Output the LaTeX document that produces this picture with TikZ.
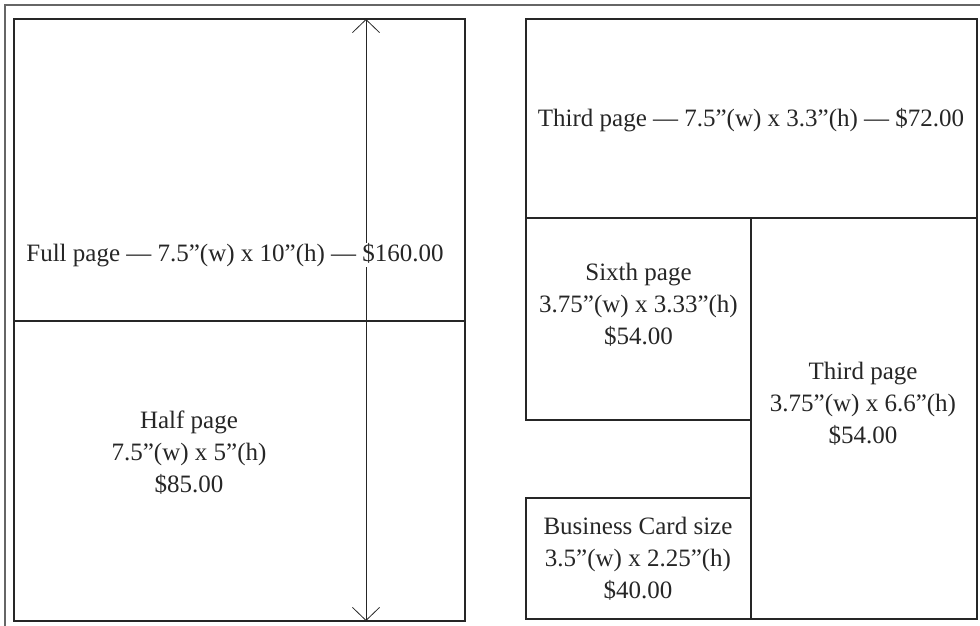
\documentclass[tikz,border=0pt]{standalone}
\usepackage{fontspec}
\setmainfont{Liberation Serif}
\usetikzlibrary{arrows.meta}
\tikzset{
  boxline/.style={draw=black!85, line width=1.3pt},
  frameline/.style={draw=black!60, line width=1.8pt},
  label/.style={align=center, inner sep=0pt, font=\fontsize{25}{32}\selectfont, text=black!85},
  dimarrow/.style={draw=black!85, line width=0.8pt, {Straight Barb[length=13pt,width=27pt]}-{Straight Barb[length=13pt,width=27pt]}}
}
\begin{document}
\begin{tikzpicture}[x=1pt,y=-1pt]
\useasboundingbox (0,0) rectangle (980,626);
% outer frame (top and left edges only)
\draw[frameline] (980,5) -- (5,5) -- (5,626);
% full page box
\draw[boxline] (14,19) rectangle (465,621);
\draw[boxline] (14,321) -- (465,321);
\coordinate (atop) at (366,19);
\coordinate (abot) at (366,621);
\draw[dimarrow] (abot) -- (atop);
\node[label, fill=white, inner xsep=2pt] (full) at (235,255) {Full page — 7.5”(w) x 10”(h) — \$160.00};
\node[label] (half) at (189,453) {Half page\\7.5”(w) x 5”(h)\\\$85.00};
% right column
\draw[boxline] (526,19) rectangle (977,218);
\node[label] (third) at (751,120) {Third page — 7.5”(w) x 3.3”(h) — \$72.00};
\draw[boxline] (526,218) rectangle (751,420);
\node[label] (sixth) at (638.5,305) {Sixth page\\3.75”(w) x 3.33”(h)\\\$54.00};
\draw[boxline] (751,218) rectangle (977,619);
\node[label] (thirdv) at (863,404) {Third page\\3.75”(w) x 6.6”(h)\\\$54.00};
\draw[boxline] (526,498) rectangle (751,619);
\node[label] (card) at (638,559) {Business Card size\\3.5”(w) x 2.25”(h)\\\$40.00};
\end{tikzpicture}
\end{document}
